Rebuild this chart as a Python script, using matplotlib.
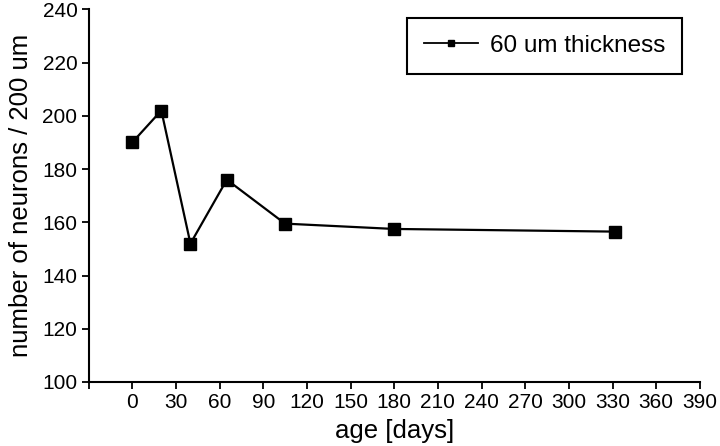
import matplotlib
matplotlib.use("Agg")
import matplotlib.pyplot as plt

plt.rcParams['font.family'] = ['Liberation Sans', 'DejaVu Sans']

# data
age_days = [0, 20, 40, 65, 105, 180, 332]
neurons = [190, 202, 152, 176, 159.5, 157.5, 156.5]
xtick_vals = [-30, 0, 30, 60, 90, 120, 150, 180, 210, 240, 270, 300, 330, 360, 390]
xtick_labels = [''] + [str(v) for v in xtick_vals[1:]]
ytick_vals = [100, 120, 140, 160, 180, 200, 220, 240]

fig = plt.figure(figsize=(7.2, 4.46), dpi=100)
ax = fig.add_axes([0.123, 0.1435, 0.849, 0.8355])

ax.plot(age_days, neurons, color='black', lw=1.6, marker='s', markersize=8.5,
        label='60 um thickness')

ax.set_xlim(-30, 390)
ax.set_ylim(100, 240)
ax.set_xticks(xtick_vals)
ax.set_xticklabels(xtick_labels)
ax.set_yticks(ytick_vals)
ax.tick_params(labelsize=15, width=1.3, length=5, pad=3, direction='out', colors='black')
for s in ['top', 'right']:
    ax.spines[s].set_visible(False)
for s in ['left', 'bottom']:
    ax.spines[s].set_linewidth(1.5)

ax.set_xlabel('age [days]', fontsize=18.5, labelpad=5)
ax.set_ylabel('number of neurons / 200 um', fontsize=18.5, labelpad=7)

leg = ax.legend(loc='upper right', bbox_to_anchor=(0.971, 0.977), fontsize=17.5,
                fancybox=False, edgecolor='black', framealpha=1,
                handlelength=2.2, handletextpad=0.5, markerscale=0.55,
                borderpad=0.7, borderaxespad=0)
leg.get_frame().set_linewidth(1.5)
for h in leg.get_lines():
    h.set_linewidth(1.3)

fig.savefig('out.png', dpi=100)
